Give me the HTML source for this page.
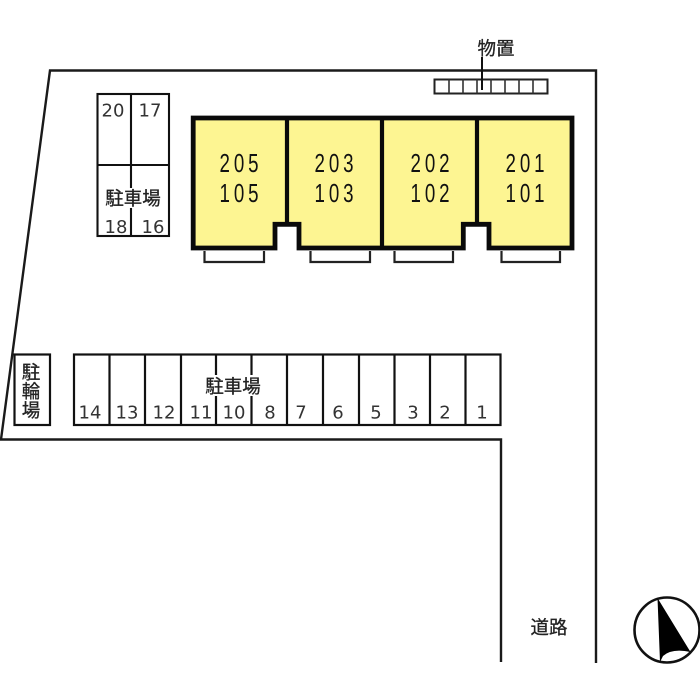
<!DOCTYPE html>
<html lang="ja">
<head>
<meta charset="utf-8">
<title>配置図</title>
<style>
html,body{margin:0;padding:0;background:#fff;width:700px;height:700px;overflow:hidden}
svg{display:block;filter:blur(0.35px)}
text{font-family:"Liberation Sans","Noto Sans CJK JP",sans-serif;fill:#222;text-anchor:middle}
.n{font-family:"DejaVu Sans",sans-serif;font-size:18px;fill:#333}
.j{font-size:18.500px;fill:#222;stroke:#222;stroke-width:.3px}
.b{font-size:26px;letter-spacing:5.500px;fill:#111}
</style>
</head>
<body>
<svg width="700" height="700" viewBox="0 0 700 700" xmlns="http://www.w3.org/2000/svg">
<rect width="700" height="700" fill="#fff"/>

<!-- site outline -->
<path d="M501 662V439.500H1L50 70.500H596V663" fill="none" stroke="#1a1a1a" stroke-width="2.400"/>

<!-- building -->
<path d="M193.200 118H572V248H489V224.300H463.300V248H299V224.300H275V248H193.200Z" fill="#fdf592" stroke="#0a0a0a" stroke-width="4.800"/>
<path d="M287 118V224M382 118V248M477 118V224" fill="none" stroke="#0a0a0a" stroke-width="4.200"/>

<!-- balconies -->
<g fill="#fff" stroke="#222" stroke-width="2.200">
<path d="M204.500 251V262H264V251"/>
<path d="M310.500 251V262H370V251"/>
<path d="M394.500 251V262H453V251"/>
<path d="M501.500 251V262H560V251"/>
</g>

<!-- unit labels -->
<g class="b">
<text class="b" transform="translate(241 172) scale(.72 1)">205</text>
<text class="b" transform="translate(241 202) scale(.72 1)">105</text>
<text class="b" transform="translate(336 172) scale(.72 1)">203</text>
<text class="b" transform="translate(336 202) scale(.72 1)">103</text>
<text class="b" transform="translate(432 172) scale(.72 1)">202</text>
<text class="b" transform="translate(432 202) scale(.72 1)">102</text>
<text class="b" transform="translate(527 172) scale(.72 1)">201</text>
<text class="b" transform="translate(527 202) scale(.72 1)">101</text>
</g>

<!-- storage -->
<rect x="434.500" y="79.500" width="113" height="14" fill="#fff" stroke="#222" stroke-width="2"/>
<path d="M449 79.500V93.500M463 79.500V93.500M477 79.500V93.500M491 79.500V93.500M505 79.500V93.500M519 79.500V93.500M533 79.500V93.500" stroke="#333" stroke-width="1.600" fill="none"/>
<path d="M482 57V90" stroke="#111" stroke-width="2"/>
<text class="j" x="496" y="55">物置</text>

<!-- upper-left parking -->
<rect x="97.500" y="94" width="71.500" height="142" fill="#fff" stroke="#111" stroke-width="2.100"/>
<path d="M97.500 165H169M131 94V188M131 208V236" fill="none" stroke="#111" stroke-width="2.100"/>
<text class="n" x="113" y="116.500">20</text>
<text class="n" x="150" y="116.500">17</text>
<text class="j" x="133" y="205">駐車場</text>
<text class="n" x="116" y="233">18</text>
<text class="n" x="153" y="233">16</text>

<!-- bike parking -->
<rect x="14.500" y="354.500" width="35.500" height="70.500" fill="#fff" stroke="#111" stroke-width="2.200"/>
<text class="j" x="31" y="379">駐</text>
<text class="j" x="31" y="398">輪</text>
<text class="j" x="31" y="417">場</text>

<!-- lower parking -->
<rect x="74" y="354.500" width="426.500" height="70.500" fill="#fff" stroke="#111" stroke-width="2.200"/>
<path d="M109.500 354.500V425M145 354.500V425M181 354.500V425M216 354.500V375M216 396V425M251.500 354.500V375M251.500 396V425M287 354.500V425M323 354.500V425M359 354.500V425M394.500 354.500V425M430 354.500V425M465.500 354.500V425" fill="none" stroke="#111" stroke-width="2.200"/>
<text class="j" x="233" y="393">駐車場</text>
<text class="n" x="90" y="418.500">14</text>
<text class="n" x="127" y="418.500">13</text>
<text class="n" x="164" y="418.500">12</text>
<text class="n" x="201" y="418.500">11</text>
<text class="n" x="234" y="418.500">10</text>
<text class="n" x="270" y="418.500">8</text>
<text class="n" x="301" y="418.500">7</text>
<text class="n" x="338" y="418.500">6</text>
<text class="n" x="376" y="418.500">5</text>
<text class="n" x="413" y="418.500">3</text>
<text class="n" x="445" y="418.500">2</text>
<text class="n" x="482" y="418.500">1</text>

<!-- road label -->
<text class="j" x="549" y="634">道路</text>

<!-- compass -->
<circle cx="667" cy="630" r="32.500" fill="#fff" stroke="#111" stroke-width="2.600"/>
<path d="M657.500 598L690.500 652Q672 648 663 656L660 662Z" fill="#000"/>
</svg>
</body>
</html>
